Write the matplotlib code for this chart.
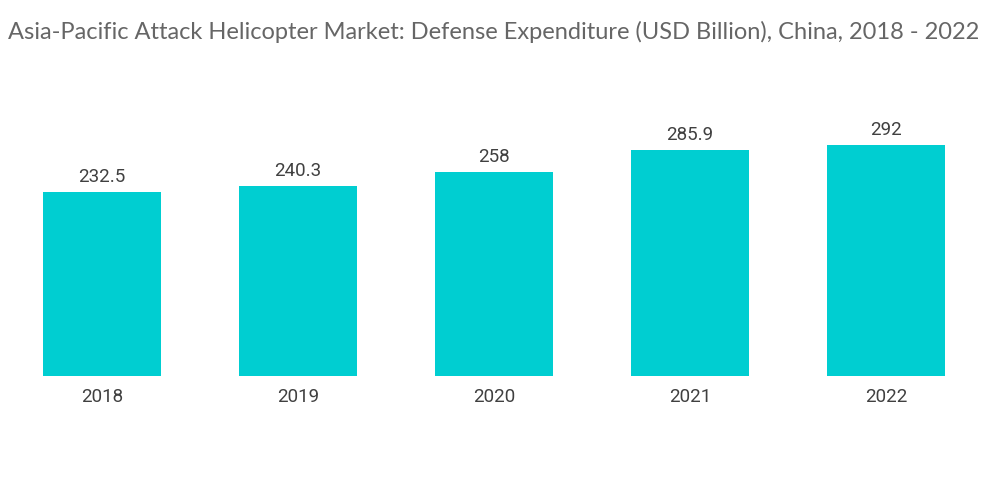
import matplotlib
matplotlib.use("Agg")
import matplotlib.pyplot as plt

years = ["2018", "2019", "2020", "2021", "2022"]
spend = [232.5, 240.3, 258, 285.9, 292]
labels = ["232.5", "240.3", "258", "285.9", "292"]

fig = plt.figure(figsize=(10, 5.04), dpi=100)
ax = fig.add_axes([0.004, 0.254, 0.98, 0.548])

bars = ax.bar(range(len(years)), spend, width=0.6, color="#00CED1")
ax.set_xlim(-0.5, len(years) - 0.5)
ax.set_ylim(0, 349)

for b, lab in zip(bars, labels):
    ax.text(b.get_x() + b.get_width() / 2, b.get_height() + 7, lab,
            ha="center", va="bottom", fontsize=13.5, color="#404040",
            family="Roboto")

ax.set_xticks(range(len(years)))
ax.set_xticklabels(years, fontsize=13.5, color="#404040", family="Roboto")
ax.tick_params(axis="x", length=0, pad=9)
ax.set_yticks([])
for s in ["top", "right", "left", "bottom"]:
    ax.spines[s].set_visible(False)

fig.text(0.008, 0.936,
         "Asia-Pacific Attack Helicopter Market: Defense Expenditure (USD Billion), China, 2018 - 2022",
         fontsize=17, color="#666666", family="Lato", va="center", ha="left")

fig.savefig("out.png", dpi=100)
